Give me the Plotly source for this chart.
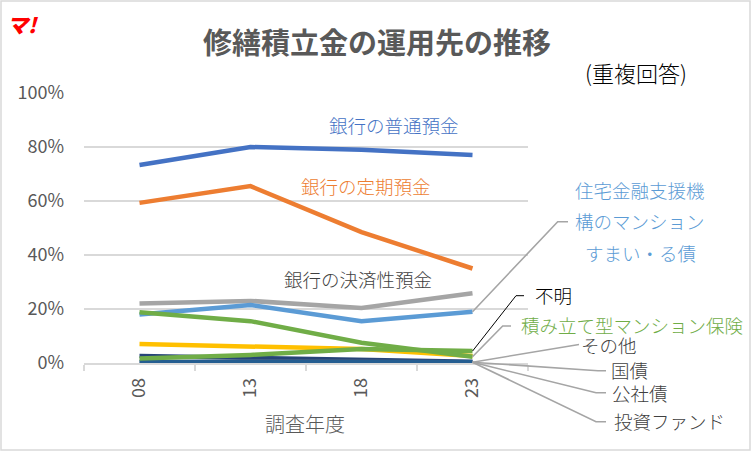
import plotly.graph_objects as go

years = ["08", "13", "18", "23"]

futsu = [0.733, 0.800, 0.790, 0.770]       # 銀行の普通預金
teiki = [0.593, 0.655, 0.485, 0.350]       # 銀行の定期預金
kessai = [0.220, 0.230, 0.204, 0.258]      # 銀行の決済性預金
sonota = [0.070, 0.063, 0.052, 0.026]      # その他
sumairu = [0.180, 0.215, 0.155, 0.190]     # 住宅金融支援機構のマンションすまい・る債
hoken = [0.188, 0.155, 0.075, 0.023]       # 積み立て型マンション保険
kokusai = [0.026, 0.020, 0.012, 0.005]     # 国債
toushi = [0.004, 0.004, 0.003, 0.003]      # 投資ファンド
koshasai = [0.004, 0.004, 0.004, 0.003]    # 公社債
fumei = [0.017, 0.030, 0.052, 0.044]       # 不明

series = [
    ("銀行の普通預金", futsu, "#4472C4"),
    ("銀行の定期預金", teiki, "#ED7D31"),
    ("銀行の決済性預金", kessai, "#A5A5A5"),
    ("その他", sonota, "#FFC000"),
    ("住宅金融支援機構のマンションすまい・る債", sumairu, "#5B9BD5"),
    ("積み立て型マンション保険", hoken, "#70AD47"),
    ("国債", kokusai, "#264478"),
    ("投資ファンド", toushi, "#A5A5A5"),
    ("公社債", koshasai, "#255E91"),
    ("不明", fumei, "#70AD47"),
]

FONT = "Noto Sans CJK JP"
W, H = 752, 452
L, R, T, B = 84, 224, 93, 89
PW, PH = W - L - R, H - T - B
YMAX = 1.0


def px(x):
    return (x - L) / PW


def py(y):
    return (H - B - y) / PH


fig = go.Figure()
for name, vals, col in series:
    fig.add_trace(go.Scatter(x=years, y=vals, mode="lines", name=name,
                             line=dict(color=col, width=4.5),
                             hoverinfo="skip"))

annotations = []


def txt(s, x, y, size, color, weight=None, **kw):
    f = dict(family=FONT, size=size, color=color)
    if weight:
        f["weight"] = weight
    annotations.append(dict(text=s, x=px(x), y=py(y), xref="paper", yref="paper",
                            showarrow=False, xanchor="center", yanchor="middle",
                            font=f, **kw))


txt("修繕積立金の運用先の推移", 377, 41, 29, "#595959", weight=700)
txt("(重複回答)", 636, 72, 22, "#000000", weight=300)
txt("<i>マ!</i>", 23, 24, 21, "#FF0000", weight=900)
txt("調査年度", 305, 423, 20, "#595959", weight=300)

LW = 300
txt("銀行の普通預金", 394, 125, 18.5, "#4472C4", LW)
txt("銀行の定期預金", 366, 186, 18.5, "#ED7D31", LW)
txt("銀行の決済性預金", 358, 279, 18.5, "#404040", LW)
txt("住宅金融支援機", 640, 190, 18.5, "#5B9BD5", LW)
txt("構のマンション", 640, 221, 18.5, "#5B9BD5", LW)
txt("すまい・る債", 640, 253, 18.5, "#5B9BD5", LW)
txt("不明", 553, 295, 18.5, "#000000", LW)
txt("積み立て型マンション保険", 632, 325, 18.5, "#70AD47", LW)
txt("その他", 609, 345, 18.5, "#404040", LW)
txt("国債", 629, 370, 18.5, "#404040", LW)
txt("公社債", 640, 393, 18.5, "#404040", LW)
txt("投資ファンド", 669, 421, 18.5, "#404040", LW)

# leader lines: start at the last data point of each series
last_x = (len(years) - 1 + 0.5) / len(years)   # paper x of the last category


def leader(val, pts, color="#A5A5A5", width=1.6):
    d = "M %f,%f" % (last_x, val / YMAX)
    for (x, y) in pts:
        d += " L %f,%f" % (px(x), py(y))
    return dict(type="path", path=d, xref="paper", yref="paper",
                line=dict(color=color, width=width), layer="above")


bottom = koshasai[-1]
shapes = [
    leader(sumairu[-1], [(557.7, 221.7), (568, 221.7)]),
    leader(fumei[-1], [(516, 295.7), (524, 295.7)], color="#000000", width=1),
    leader(hoken[-1], [(502.7, 326), (511, 326)]),
    leader(bottom, [(579, 344.5)]),
    leader(bottom, [(598, 370.7), (606, 370.7)]),
    leader(bottom, [(596, 392.7), (606, 392.7)]),
    leader(bottom, [(596, 421.7), (606, 421.7)]),
    dict(type="rect", xref="paper", yref="paper",
         x0=px(1), x1=px(750), y0=py(450), y1=py(1),
         line=dict(color="#D9D9D9", width=1.5), layer="below"),
]

fig.update_layout(
    width=W, height=H, autosize=False,
    margin=dict(l=L, r=R, t=T, b=B),
    paper_bgcolor="white", plot_bgcolor="white",
    showlegend=False,
    annotations=annotations,
    shapes=shapes,
    font=dict(family=FONT, color="#595959"),
    xaxis=dict(
        type="category", range=[-0.5, len(years) - 0.5],
        showgrid=False, showline=True, linecolor="#D9D9D9", linewidth=1.5,
        ticks="outside", tickson="boundaries", ticklen=6, tickcolor="#D9D9D9",
        tickwidth=1.5, tickangle=-90,
        tickfont=dict(family=FONT, size=18, color="#595959"),
        ticklabelstandoff=6, fixedrange=True,
    ),
    yaxis=dict(
        range=[0, YMAX], dtick=0.2, tickformat=".0%",
        showgrid=True, gridcolor="#D9D9D9", gridwidth=1.5,
        zeroline=False, showline=False, ticks="",
        tickfont=dict(family=FONT, size=18, color="#595959"),
        ticklabelstandoff=19, fixedrange=True,
    ),
)

fig.write_html("out.html", config={"displayModeBar": False},
               post_script="document.body.style.margin='0';")
